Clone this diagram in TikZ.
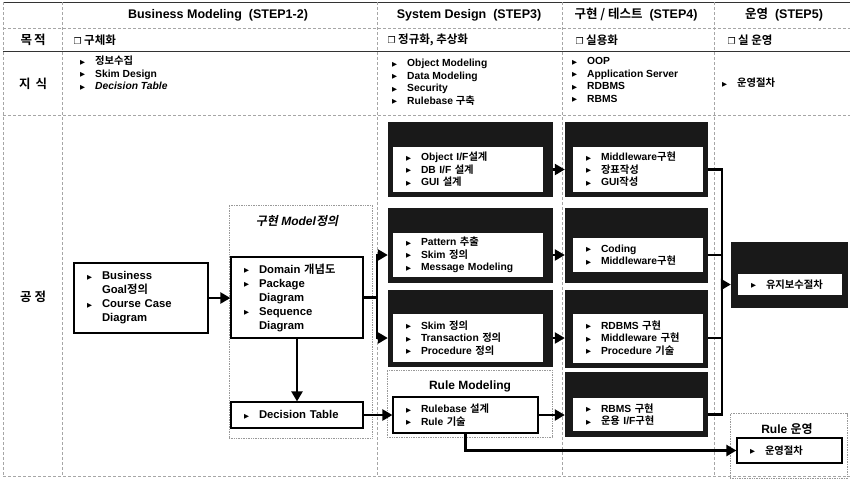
\documentclass[tikz,border=0pt]{standalone}
\usepackage{fontspec}
\setmainfont{Liberation Sans}
\newfontfamily\krfont{Noto Sans CJK KR Bold}[BoldFont=Noto Sans CJK KR Bold, ItalicFont=Noto Sans CJK KR Bold, ItalicFeatures={FakeSlant=0.2}, BoldItalicFont=Noto Sans CJK KR Bold, BoldItalicFeatures={FakeSlant=0.2}]
\newfontfamily\glyphfont{DejaVu Sans}
\usetikzlibrary{arrows.meta, positioning}
\newcommand{\kr}[1]{{\krfont #1}}
\newcommand{\bul}{\makebox[15pt][l]{\raisebox{0.5pt}{\glyphfont\fontsize{6.5}{7}\selectfont ▶}}}
\newcommand{\ind}{\hspace*{15pt}}
\newcommand{\memo}{{\glyphfont\fontsize{9}{10}\selectfont ❐}}
\newcommand{\itemfont}{\fontsize{10.3}{12.5}\selectfont\bfseries}
\newcommand{\bigitemfont}{\fontsize{11.3}{14}\selectfont\bfseries}

\begin{document}
\begin{tikzpicture}[x=1pt, y=-1pt,
    gridline/.style={gray!70, line width=0.7pt, densely dashed},
    strongline/.style={black!80, line width=0.9pt},
    colhead/.style={font=\fontsize{12.5}{14}\selectfont\bfseries},
    rowhead/.style={font=\fontsize{12.5}{14}\selectfont\krfont},
    aim/.style={anchor=west, font=\fontsize{11.5}{13}\selectfont\krfont},
    know/.style={anchor=west, align=left, inner sep=0pt, font=\itemfont},
    lightbox/.style={draw, fill=white, line width=1.2pt, align=left, inner xsep=13pt, inner ysep=0pt, font=\itemfont},
    darkbox/.style={fill=black!90, inner sep=0pt},
    darkinner/.style={fill=white, align=left, inner xsep=13pt, inner ysep=0pt, font=\itemfont},
    groupbox/.style={draw=gray!80, line width=0.7pt, densely dotted, inner sep=0pt},
    grouptitle/.style={font=\fontsize{12}{14}\selectfont\bfseries},
    link/.style={line width=2.3pt},
    arr/.style={line width=2.3pt, -{Triangle[length=10pt, width=11pt]}}]
    \useasboundingbox (0,0) rectangle (850,479);
    % table grid
    \draw[strongline] (3,2) -- (850,2);
    \draw[gridline] (3,28) -- (850,28);
    \draw[strongline] (3,51) -- (850,51);
    \draw[gridline] (3,115) -- (850,115);
    \draw[gridline] (3,476) -- (850,476);
    \foreach \x in {3,62,377,562,714} \draw[gridline] (\x,2) -- (\x,476);
    % column heads
    \node[colhead] (hbm) at (218,15) {Business Modeling\ \ (STEP1-2)};
    \node[colhead] (hsd) at (469,15) {System Design\ \ (STEP3)};
    \node[colhead] (him) at (636,15) {\kr{구현 / 테스트}\ \ (STEP4)};
    \node[colhead] (hop) at (784,15) {\kr{운영}\ \ (STEP5)};
    % row heads
    \node[rowhead] (raim) at (33,40) {목\hspace{2pt}적};
    \node[rowhead] (rknow) at (33,84) {지\hspace{5pt}식};
    \node[rowhead] (rproc) at (33,297) {공\hspace{3pt}정};
    % aims
    \node[aim] (abm) at (70,40) {\memo\ 구체화};
    \node[aim] (asd) at (384,40) {\memo\ 정규화, 추상화};
    \node[aim] (aim4) at (572,40) {\memo\ 실용화};
    \node[aim] (aop) at (724,40) {\memo\ 실 운영};
    % knowledge
    \node[know] (kbm) at (80,73) {\bul\kr{정보수집}\\\bul Skim Design\\\bul\textit{Decision Table}};
    \node[know] (ksd) at (392,82) {\bul Object Modeling\\\bul Data Modeling\\\bul Security\\\bul Rulebase \kr{구축}};
    \node[know] (kim) at (572,80) {\bul OOP\\\bul Application Server\\\bul RDBMS\\\bul RBMS};
    \node[know] (kop) at (722,83) {\bul\kr{운영절차}};
    % groups
    \node[groupbox, minimum width=143pt, minimum height=233pt] (modelgrp) at (300.5,321.5) {};
    \node[grouptitle] (modeltitle) at (297,221) {\textit{\kr{구현} Model\kr{정의}}};
    \node[groupbox, minimum width=165pt, minimum height=67pt] (rulegrp) at (469.5,403.5) {};
    \node[grouptitle] (ruletitle) at (470,386) {Rule Modeling};
    \node[groupbox, minimum width=117pt, minimum height=65pt] (ropgrp) at (788.5,446) {};
    \node[grouptitle] (roptitle) at (787,429) {Rule \kr{운영}};
    % business modeling
    \node[lightbox, font=\bigitemfont, text width=108pt, minimum height=70pt] (goal) at (141,298) {\bul Business\\\ind Goal\kr{정의}\\\bul Course Case\\\ind Diagram};
    \node[lightbox, font=\bigitemfont, text width=106pt, minimum height=81pt] (domain) at (297,297.5) {\bul Domain \kr{개념도}\\\bul Package\\\ind Diagram\\\bul Sequence\\\ind Diagram};
    \node[lightbox, font=\bigitemfont, text width=106pt, minimum height=26pt] (dtable) at (297,415) {\bul Decision Table};
    % system design
    \node[darkbox, minimum width=165pt, minimum height=75pt] (sdA) at (470.5,159.5) {};
    \node[darkinner, text width=124pt, minimum height=45pt] (sdAin) at (468,169.5) {\bul Object I/F\kr{설계}\\\bul DB I/F \kr{설계}\\\bul GUI \kr{설계}};
    \node[darkbox, minimum width=165pt, minimum height=75pt] (sdB) at (470.5,245.5) {};
    \node[darkinner, text width=124pt, minimum height=44pt] (sdBin) at (468,255) {\bul Pattern \kr{추출}\\\bul Skim \kr{정의}\\\bul Message Modeling};
    \node[darkbox, minimum width=165pt, minimum height=77pt] (sdC) at (470.5,328.5) {};
    \node[darkinner, text width=124pt, minimum height=48pt] (sdCin) at (468,338) {\bul Skim \kr{정의}\\\bul Transaction \kr{정의}\\\bul Procedure \kr{정의}};
    \node[lightbox, text width=119pt, minimum height=36pt] (rulebox) at (465.5,415) {\bul Rulebase \kr{설계}\\\bul Rule \kr{기술}};
    % implementation / test
    \node[darkbox, minimum width=143pt, minimum height=75pt] (imA) at (636.5,159.5) {};
    \node[darkinner, text width=104pt, minimum height=45pt] (imAin) at (638,169.5) {\bul Middleware\kr{구현}\\\bul\kr{장표작성}\\\bul GUI\kr{작성}};
    \node[darkbox, minimum width=143pt, minimum height=75pt] (imB) at (636.5,245.5) {};
    \node[darkinner, text width=104pt, minimum height=34pt] (imBin) at (638,255) {\bul Coding\\\bul Middleware\kr{구현}};
    \node[darkbox, minimum width=143pt, minimum height=78pt] (imC) at (636.5,329) {};
    \node[darkinner, text width=104pt, minimum height=49pt] (imCin) at (638,338) {\bul RDBMS \kr{구현}\\\bul Middleware \kr{구현}\\\bul Procedure \kr{기술}};
    \node[darkbox, minimum width=143pt, minimum height=65pt] (imD) at (636.5,404.5) {};
    \node[darkinner, text width=104pt, minimum height=33pt] (imDin) at (638,414.5) {\bul RBMS \kr{구현}\\\bul\kr{운용} I/F\kr{구현}};
    % operation
    \node[darkbox, minimum width=117pt, minimum height=66pt] (opA) at (789.5,275) {};
    \node[darkinner, text width=78pt, minimum height=21pt] (opAin) at (790,284.5) {\bul\kr{유지보수절차}};
    \node[lightbox, text width=79pt, minimum height=25pt] (ropbox) at (789.5,450.5) {\bul\kr{운영절차}};
    % connectors
    \draw[arr] (goal.east) -- (goal.east -| domain.west);
    \draw[arr] (domain) -- (dtable);
    \draw[arr] (dtable) -- (rulebox);
    \coordinate (busL) at (377,297.5);
    \draw[link] (domain.east) -- (busL);
    \draw[arr] (busL) |- (sdB.west |- sdBin.west);
    \draw[arr] (busL) |- (sdC.west |- sdCin.west);
    \draw[arr] (sdA.east |- sdAin.east) -- (imA.west |- sdAin.east);
    \draw[arr] (sdB.east |- sdBin.east) -- (imB.west |- sdBin.east);
    \draw[arr] (sdC.east |- sdCin.east) -- (imC.west |- sdCin.east);
    \draw[arr] (rulebox.east) -- (imD.west |- rulebox.east);
    \coordinate (busR) at (722,169.5);
    \draw[link] (imA.east |- imAin.east) -- (busR) -- (busR |- imDin.east) -- (imD.east |- imDin.east);
    \draw[link] (imB.east |- imBin.east) -- (busR |- imBin.east);
    \draw[link] (imC.east |- imCin.east) -- (busR |- imCin.east);
    \draw[arr] (busR |- opAin.west) -- (opA.west |- opAin.west);
    \draw[arr] (rulebox.south) |- (ropbox.west);
\end{tikzpicture}
\end{document}
